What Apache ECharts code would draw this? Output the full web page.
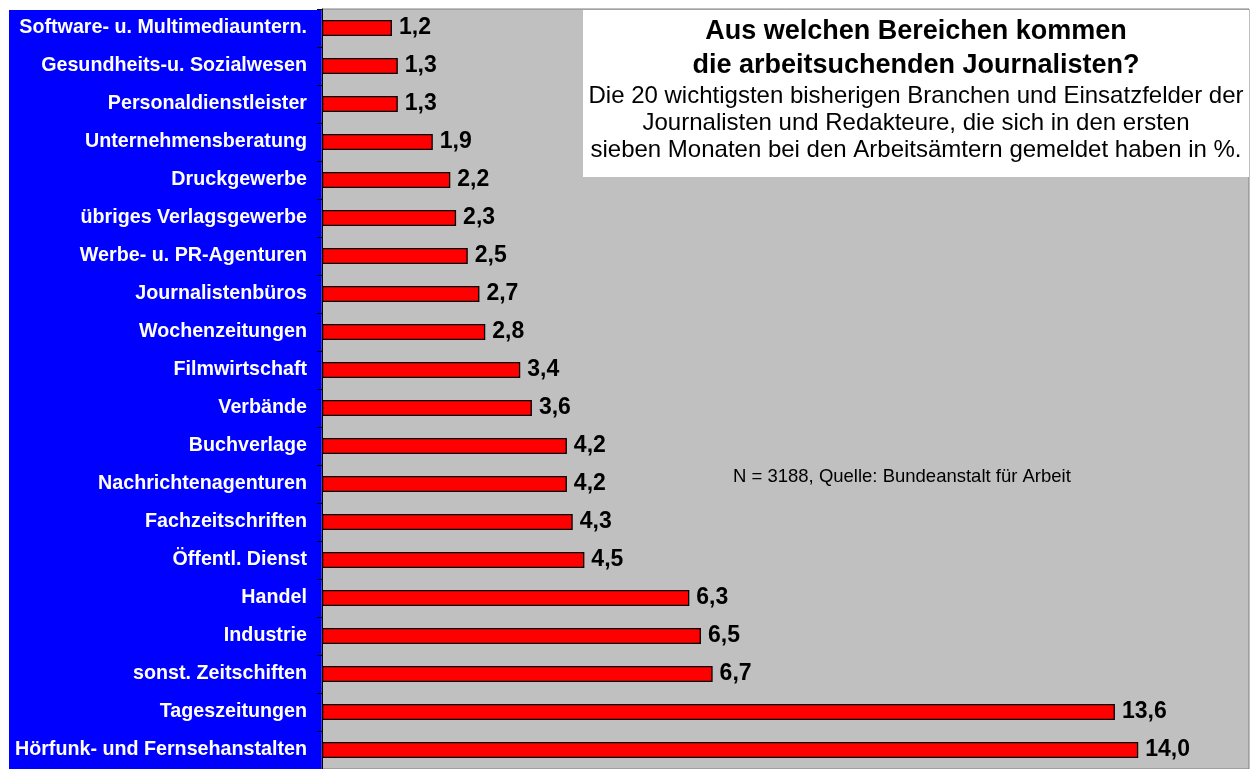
<!DOCTYPE html>
<html>
<head>
<meta charset="utf-8">
<script src="https://cdn.jsdelivr.net/npm/echarts@6/dist/echarts.min.js"></script>
<style>
  html, body { margin: 0; padding: 0; background: #ffffff; }
  #chart { width: 1251px; height: 769px; }
</style>
</head>
<body>
<div id="chart"></div>
<script>
const categories = [
  "Software- u. Multimediauntern.",
  "Gesundheits-u. Sozialwesen",
  "Personaldienstleister",
  "Unternehmensberatung",
  "Druckgewerbe",
  "übriges Verlagsgewerbe",
  "Werbe- u. PR-Agenturen",
  "Journalistenbüros",
  "Wochenzeitungen",
  "Filmwirtschaft",
  "Verbände",
  "Buchverlage",
  "Nachrichtenagenturen",
  "Fachzeitschriften",
  "Öffentl. Dienst",
  "Handel",
  "Industrie",
  "sonst. Zeitschiften",
  "Tageszeitungen",
  "Hörfunk- und Fernsehanstalten"
];
const values = [1.2, 1.3, 1.3, 1.9, 2.2, 2.3, 2.5, 2.7, 2.8, 3.4, 3.6, 4.2, 4.2, 4.3, 4.5, 6.3, 6.5, 6.7, 13.6, 14.0];

const titleText = "Aus welchen Bereichen kommen\ndie arbeitsuchenden Journalisten?";
const subtitleText = "Die 20 wichtigsten bisherigen Branchen und Einsatzfelder der\nJournalisten und Redakteure, die sich in den ersten\nsieben Monaten bei den Arbeitsämtern gemeldet haben in %.";
const noteText = "N = 3188, Quelle: Bundeanstalt für Arbeit";

const FONT = "'Liberation Sans', Arial, sans-serif";

const chart = echarts.init(document.getElementById('chart'), null, { renderer: 'canvas' });
chart.setOption({
  animation: false,
  backgroundColor: '#ffffff',
  textStyle: { fontFamily: FONT },
  title: {
    text: titleText,
    subtext: subtitleText,
    left: 916,
    top: 15,
    textAlign: 'center',
    itemGap: 0,
    padding: 0,
    z: 10,
    textStyle: { fontFamily: FONT, fontSize: 27, fontWeight: 'bold', color: '#000', lineHeight: 34 },
    subtextStyle: { fontFamily: FONT, fontSize: 24, color: '#000', lineHeight: 27 }
  },
  grid: {
    left: 322, right: 2, top: 9, height: 765,
    show: true,
    backgroundColor: '#c0c0c0',
    borderColor: '#808080',
    borderWidth: 1,
    containLabel: false
  },
  xAxis: {
    type: 'value',
    min: 0, max: 15.9,
    show: false,
    splitLine: { show: false }
  },
  yAxis: {
    type: 'category',
    data: categories,
    inverse: true,
    z: 5,
    axisLine: { show: true, lineStyle: { color: '#000', width: 1 } },
    axisTick: { show: true, inside: false, length: 5, lineStyle: { color: '#000' } },
    axisLabel: {
      color: '#ffffff',
      fontFamily: FONT,
      fontWeight: 'bold',
      fontSize: 19.7,
      margin: 15
    }
  },
  graphic: [
    {
      type: 'rect',
      z: -10,
      silent: true,
      shape: { x: 9, y: 10, width: 313, height: 759 },
      style: { fill: '#0000ff' }
    },
    {
      type: 'rect',
      z: 1,
      silent: true,
      shape: { x: 583, y: 10, width: 666, height: 167 },
      style: { fill: '#ffffff' }
    },
    {
      type: 'text',
      z: 5,
      x: 733,
      y: 467,
      style: { text: noteText, fill: '#000', font: '18.5px ' + FONT }
    }
  ],
  series: [{
    type: 'bar',
    data: values,
    barWidth: 16,
    z: 3,
    itemStyle: { color: '#ff0000', borderColor: '#000000', borderWidth: 1.3 },
    label: {
      show: true,
      position: 'right',
      distance: 7,
      color: '#000',
      fontFamily: FONT,
      fontWeight: 'bold',
      fontSize: 23,
      formatter: p => p.value.toFixed(1).replace('.', ',')
    }
  }]
});
</script>
</body>
</html>
